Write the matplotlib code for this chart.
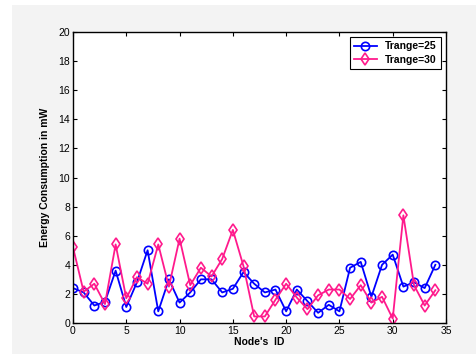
import numpy as np
import matplotlib.pyplot as plt

# data
node_id = list(range(35))
trange25 = [2.4, 2.1, 1.2, 1.45, 3.6, 1.1, 2.8, 5.0, 0.8, 3.0, 1.4, 2.1, 3.0, 3.0, 2.1, 2.35,
            3.5, 2.7, 2.1, 2.3, 0.8, 2.3, 1.5, 0.7, 1.25, 0.8, 3.8, 4.2, 1.8, 4.0, 4.7, 2.5,
            2.8, 2.4, 4.0]
trange30 = [5.2, 2.15, 2.7, 1.3, 5.4, 1.7, 3.15, 2.7, 5.4, 2.5, 5.8, 2.6, 3.8, 3.2, 4.4, 6.4,
            3.9, 0.45, 0.45, 1.6, 2.7, 1.75, 0.95, 1.9, 2.3, 2.3, 1.65, 2.6, 1.4, 1.8, 0.3, 7.4,
            2.6, 1.2, 2.25]
xticks = [0, 5, 10, 15, 20, 25, 30, 35]
yticks = [0, 2, 4, 6, 8, 10, 12, 14, 16, 18, 20]

plt.rcParams['font.family'] = ['Liberation Sans', 'DejaVu Sans']

fig = plt.figure(figsize=(4.77, 3.54), dpi=100)
fig.patch.set_facecolor('white')
# latar abu-abu ala MATLAB
bg = plt.Rectangle((12 / 477, 0), 1 - 12 / 477, 1 - 5 / 354, transform=fig.transFigure,
                   facecolor='#f3f3f3', edgecolor='none', zorder=-10)
fig.patches.append(bg)

ax = fig.add_axes([73 / 477, 1 - 323 / 354, (446 - 73) / 477, (323 - 32) / 354])
ax.set_facecolor('white')

ax.plot(node_id, trange25, color='#0000ff', marker='o', markersize=6, markerfacecolor='none',
        markeredgewidth=1.2, linewidth=1.3, label='Trange=25')
ax.plot(node_id, trange30, color='#ff1a8c', marker='d', markersize=6, markerfacecolor='none',
        markeredgewidth=1.2, linewidth=1.3, label='Trange=30')

ax.set_xlim(0, 35)
ax.set_ylim(0, 20)
ax.set_xticks(xticks)
ax.set_yticks(yticks)
ax.tick_params(direction='in', top=True, right=True, length=3, width=0.8, labelsize=7.5,
               pad=2, colors='black')
for s in ax.spines.values():
    s.set_linewidth(1.0)

ax.set_xlabel("Node's  ID", fontsize=7.5, fontweight='bold', labelpad=1)
ax.set_ylabel('Energy Consumption in mW', fontsize=7.5, fontweight='bold', labelpad=6)

leg = ax.legend(loc='upper right', prop={'weight': 'bold', 'size': 7.5},
                fancybox=False, edgecolor='black', framealpha=1, handlelength=2.2,
                borderaxespad=0.5, labelspacing=0.35, borderpad=0.4)
leg.get_frame().set_linewidth(0.8)

plt.savefig('out.png', dpi=100, facecolor=fig.get_facecolor())
